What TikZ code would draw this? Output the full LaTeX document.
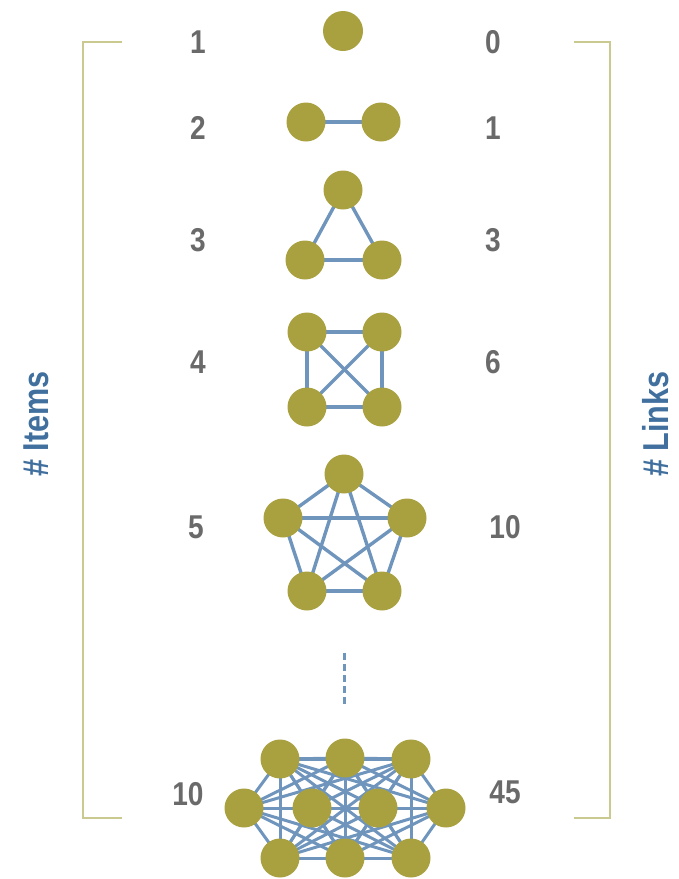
\documentclass[tikz,border=0pt]{standalone}
\usepackage{fontspec}
\setmainfont{Liberation Sans}
\newfontfamily\numfont[FakeStretch=0.85]{Liberation Sans Bold}
\newfontfamily\labfont[FakeStretch=0.85]{Liberation Sans Bold}
\usetikzlibrary{backgrounds}
\definecolor{olivenode}{HTML}{A9A040}
\definecolor{edgeblue}{HTML}{6F95BD}
\definecolor{bracketc}{HTML}{CACA90}
\definecolor{numgray}{HTML}{6A6A6A}
\definecolor{labblue}{HTML}{41709F}
\begin{document}
\begin{tikzpicture}[x=1pt,y=-1pt,
  item/.style={circle,fill=olivenode,minimum size=39pt,inner sep=0pt},
  link/.style={draw=edgeblue,line width=3.4pt},
  bracket/.style={draw=bracketc,line width=2.8pt},
  num/.style={text=numgray,font=\numfont\fontsize{33}{33}\selectfont,inner sep=0pt},
  axislabel/.style={text=labblue,font=\labfont\fontsize{36}{36}\selectfont,rotate=90,inner sep=0pt}]
\useasboundingbox (0,0) rectangle (679,879);
% brackets
\coordinate (lbt) at (122,42); \coordinate (lbb) at (122,818);
\coordinate (rbt) at (574,42); \coordinate (rbb) at (574,818);
\draw[bracket] (lbt) -- (83,42) -- (83,818) -- (lbb);
\draw[bracket] (rbt) -- (610,42) -- (610,818) -- (rbb);
% axis labels
\node[axislabel] (items) at (36,424) {\# Items};
\node[axislabel] (links) at (656,424) {\# Links};
% numbers
\node[num] (l1) at (198,42) {1};
\node[num] (l2) at (198,128) {2};
\node[num] (l3) at (198,240) {3};
\node[num] (l4) at (198,362) {4};
\node[num] (l5) at (196,527) {5};
\node[num] (l10) at (188,794) {10};
\node[num] (r1) at (493,42) {0};
\node[num] (r2) at (493,128) {1};
\node[num] (r3) at (493,240) {3};
\node[num] (r4) at (493,362) {6};
\node[num] (r5) at (505,527) {10};
\node[num] (r10) at (505,792) {45};
% row 1
\node[item,minimum size=40pt] (a1) at (343,31) {};
% row 2
\node[item] (b1) at (306,122) {};
\node[item] (b2) at (381,122) {};
% row 3
\node[item] (c1) at (343,190) {};
\node[item] (c2) at (305,260) {};
\node[item] (c3) at (382,260) {};
% row 4
\node[item] (d1) at (307,332) {};
\node[item] (d2) at (382,332) {};
\node[item] (d3) at (307,407) {};
\node[item] (d4) at (382,407) {};
% row 5
\node[item] (e1) at (344,474) {};
\node[item] (e2) at (283,518) {};
\node[item] (e3) at (407,518) {};
\node[item] (e4) at (307,591) {};
\node[item] (e5) at (382,591) {};
% dots
\coordinate (dtop) at (344,653);
\coordinate (dbot) at (344,706);
\draw[draw=edgeblue,line width=3pt,dash pattern=on 7pt off 4pt] (dtop) -- (dbot);
% row 10
\node[item] (t1) at (280,759) {};
\node[item] (t2) at (345,758) {};
\node[item] (t3) at (411,759) {};
\node[item] (t4) at (244,808) {};
\node[item] (t5) at (312,808) {};
\node[item] (t6) at (378,808) {};
\node[item] (t7) at (446,808) {};
\node[item] (t8) at (280,858) {};
\node[item] (t9) at (345,858) {};
\node[item] (t10) at (411,858) {};
\begin{scope}[on background layer]
\draw[link] (b1.center) -- (b2.center);
\foreach \u/\v in {c1/c2,c1/c3,c2/c3} \draw[link] (\u.center) -- (\v.center);
\foreach \u/\v in {d1/d2,d1/d3,d1/d4,d2/d3,d2/d4,d3/d4} \draw[link] (\u.center) -- (\v.center);
\foreach \u/\v in {e1/e2,e1/e3,e1/e4,e1/e5,e2/e3,e2/e4,e2/e5,e3/e4,e3/e5,e4/e5} \draw[link] (\u.center) -- (\v.center);
\foreach \i in {1,...,9} {
  \pgfmathtruncatemacro\ni{\i+1}
  \foreach \j in {\ni,...,10} \draw[link,line width=3pt] (t\i.center) -- (t\j.center);
}
\end{scope}
\end{tikzpicture}
\end{document}
